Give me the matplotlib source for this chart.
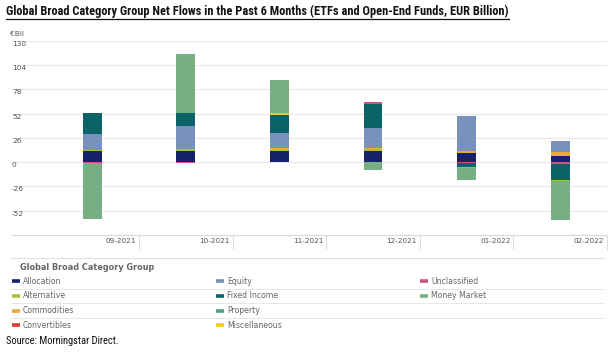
import matplotlib
matplotlib.use('Agg')
import matplotlib.pyplot as plt
from matplotlib.lines import Line2D
from matplotlib import font_manager
import numpy as np

# data (EUR billion)
months = ['09-2021', '10-2021', '11-2021', '12-2021', '01-2022', '02-2022']
allocation    = [11.4, 12.1, 11.4, 12.1,  9.6,   7.1]
alternative   = [ 1.2,  2.0,  1.5,  1.5, -1.8,  -1.0]
commodities   = [ 0.0,  0.0,  2.0,  2.0,  2.8,   3.6]
convertibles  = [ 0.0,  0.0,  0.0,  0.0,  0.0,   0.0]
equity        = [17.1, 24.2, 16.7, 20.7, 37.0,  12.1]
fixed_income  = [22.4, 14.6, 18.9, 26.0, -3.6, -17.5]
property_     = [ 1.0,  0.0,  0.0,  0.0,  0.0,   0.0]
miscellaneous = [ 0.0,  0.0,  2.0,  0.0,  0.0,   0.0]
unclassified  = [-0.8, -1.0,  0.0,  2.5, -1.4,  -1.5]
money_market  = [-59.8, 62.7, 35.3, -8.9, -12.5, -42.0]

series = {
    'Allocation': (allocation, '#16226a'),
    'Alternative': (alternative, '#a4c03c'),
    'Commodities': (commodities, '#eea93a'),
    'Convertibles': (convertibles, '#dd3b2c'),
    'Equity': (equity, '#7892bb'),
    'Fixed Income': (fixed_income, '#0c6367'),
    'Property': (property_, '#4f9f86'),
    'Miscellaneous': (miscellaneous, '#f1cb2a'),
    'Unclassified': (unclassified, '#d2527f'),
    'Money Market': (money_market, '#78ae83'),
}
pos_order = ['Allocation', 'Alternative', 'Commodities', 'Convertibles', 'Equity',
             'Fixed Income', 'Property', 'Miscellaneous', 'Unclassified', 'Money Market']
neg_order = ['Unclassified', 'Convertibles', 'Fixed Income', 'Alternative', 'Property',
             'Allocation', 'Commodities', 'Equity', 'Miscellaneous', 'Money Market']
legend_cols = [['Allocation', 'Alternative', 'Commodities', 'Convertibles'],
               ['Equity', 'Fixed Income', 'Property', 'Miscellaneous'],
               ['Unclassified', 'Money Market']]
yticks = [130, 104, 78, 52, 26, 0, -26, -52]

# pick a narrow font if one is around, else Liberation Sans
installed = {f.name for f in font_manager.fontManager.ttflist}
narrow = 'Liberation Sans'
for cand in ['Roboto Condensed', 'Liberation Sans Narrow', 'Open Sans Condensed', 'DejaVu Sans Condensed']:
    if cand in installed:
        narrow = cand
        break

W, H = 614, 354
fig = plt.figure(figsize=(W / 100, H / 100), dpi=100)

def fx(px):
    return px / W

def fy(py):
    return 1 - py / H

def fit_width(txt, target_px, renderer):
    # shrink/grow font so the text spans the same width as in the reference
    w = txt.get_window_extent(renderer).width
    txt.set_fontsize(txt.get_fontsize() * target_px / w)

ax_left, ax_right, ax_top, ax_bot = 12, 607, 40.7, 235
ax = fig.add_axes([fx(ax_left), fy(ax_bot), fx(ax_right - ax_left), fy(ax_top) - fy(ax_bot)])

x = np.arange(len(months))
bw = 0.2
pos_base = np.zeros(len(months))
neg_base = np.zeros(len(months))
for name in pos_order:
    vals = np.array(series[name][0])
    v = np.where(vals > 0, vals, 0)
    ax.bar(x, v, bw, bottom=pos_base, color=series[name][1], linewidth=0)
    pos_base += v
for name in neg_order:
    vals = np.array(series[name][0])
    v = np.where(vals < 0, vals, 0)
    ax.bar(x, v, bw, bottom=neg_base, color=series[name][1], linewidth=0)
    neg_base += v

# x range so that band edges land on the separators
band = (ax_right - 139) / 5.0
x_lo = -0.5 - (139 - band - ax_left) / band
ax.set_xlim(x_lo, 5.5)
ax.set_ylim(-78, 130)

for s in ['top', 'right', 'left']:
    ax.spines[s].set_visible(False)
ax.spines['bottom'].set_color('#d9d9d9')
ax.spines['bottom'].set_linewidth(0.8)

ax.set_yticks(yticks)
ax.set_yticklabels([])
ax.tick_params(axis='y', length=0)
ax.grid(axis='y', color='#e8e8e8', linewidth=0.8)
ax.set_axisbelow(True)
for t in yticks:
    ax.text(0.0, t, str(t), transform=ax.get_yaxis_transform(), ha='left', va='top',
            fontsize=5.3, color='#555555', family='DejaVu Sans')

# month labels right-aligned before each separator
ax.set_xticks(x + 0.5)
ax.set_xticklabels([])
ax.tick_params(axis='x', length=11, width=0.8, color='#dcdcdc', direction='out')
for xi, m in zip(x, months):
    ax.text(xi + 0.5 - 3 / band, -78 - 3.5, m, ha='right', va='top', fontsize=5.2,
            color='#555555', family='DejaVu Sans')

fig.text(fx(10), fy(34), '\u20acBil', fontsize=5.3, color='#555555', va='center', ha='left')

fig.canvas.draw()
renderer = fig.canvas.get_renderer()

# title with underline
title = fig.text(fx(6), fy(11), 'Global Broad Category Group Net Flows in the Past 6 Months '
                 '(ETFs and Open-End Funds, EUR Billion)',
                 fontsize=9.6, fontweight='bold', family=narrow,
                 ha='left', va='center', color='#111111')
fit_width(title, 504, renderer)
bb = title.get_window_extent(renderer)
uy = H - 19
fig.add_artist(Line2D([bb.x0 / W, bb.x1 / W], [uy / H, uy / H], color='#111111', linewidth=0.9))

# legend block
fig.add_artist(Line2D([fx(10), fx(604)], [fy(258), fy(258)], color='#e0e0e0', linewidth=0.8))
fig.text(fx(20), fy(267), 'Global Broad Category Group', fontsize=5.9, fontweight='bold',
         color='#666666', va='center', ha='left')
row_y = [281, 296, 310.5, 325]
for sep in [288.5, 303, 318]:
    fig.add_artist(Line2D([fx(10), fx(604)], [fy(sep), fy(sep)], color='#e3e3e3', linewidth=0.6))
col_x = [12, 216, 420]
for cx, names in zip(col_x, legend_cols):
    for ry, name in zip(row_y, names):
        fig.add_artist(Line2D([fx(cx), fx(cx + 8)], [fy(ry), fy(ry)],
                              color=series[name][1], linewidth=2.6, solid_capstyle='butt'))
        fig.text(fx(cx + 11), fy(ry), name, fontsize=5.6, color='#666666', va='center', ha='left')

src = fig.text(fx(6), fy(341), 'Source: Morningstar Direct.', fontsize=7.6,
               family=narrow, color='#111111', va='center', ha='left')
fit_width(src, 112, renderer)

fig.savefig('out.png', dpi=100)
